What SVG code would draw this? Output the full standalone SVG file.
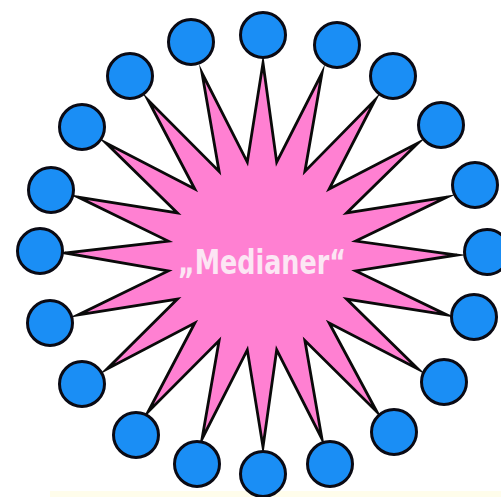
<svg xmlns="http://www.w3.org/2000/svg" width="501" height="497" viewBox="0 0 501 497">
<style>
.n{fill:#1A8EF5;stroke:#0a0a14;stroke-width:3}
.star{fill:#FF80D2;stroke:#0a0a0a;stroke-width:2.8;stroke-linejoin:miter;stroke-miterlimit:20}
.lbl{font-family:"DejaVu Sans Condensed","DejaVu Sans",sans-serif;font-size:33px;font-weight:bold;fill:#FCE6F4}
</style>
<rect width="501" height="497" fill="#ffffff"/>
<rect x="50" y="491" width="451" height="6" fill="#FFFDEB"/>
<g id="connectors">
<path id="star" class="star" d="M263,63 L276.7,162.1 L322,73 L304.9,171.4 L375,100 L329.2,189 L418,143 L346.6,212.9 L447,197 L355.8,241.1 L457,255 L355.8,270.9 L447,315 L346.6,299.1 L418,369 L329.2,323 L377,412 L304.9,340.6 L322,439 L276.7,349.9 L263,447 L247.3,349.9 L202,439 L219.1,340.6 L148,412 L194.8,323 L107,369 L177.4,299.1 L78,315 L168.2,270.9 L65,253 L168.2,241.1 L78,197 L177.4,212.9 L106,143 L194.8,189 L148,100 L219.1,171.4 L202,73 L247.3,162.1 Z"/>
</g>
<g id="center"><text class="lbl" x="262" y="274" text-anchor="middle" textLength="168" lengthAdjust="spacingAndGlyphs">„Medianer“</text></g>
<g id="n0"><circle class="n" cx="263" cy="35" r="22.5"/></g>
<g id="n1"><circle class="n" cx="337" cy="45" r="22.5"/></g>
<g id="n2"><circle class="n" cx="393" cy="76" r="22.5"/></g>
<g id="n3"><circle class="n" cx="441" cy="125" r="22.5"/></g>
<g id="n4"><circle class="n" cx="475" cy="185" r="22.5"/></g>
<g id="n5"><circle class="n" cx="487" cy="252" r="22.5"/></g>
<g id="n6"><circle class="n" cx="474" cy="317" r="22.5"/></g>
<g id="n7"><circle class="n" cx="444" cy="382" r="22.5"/></g>
<g id="n8"><circle class="n" cx="394" cy="432" r="22.5"/></g>
<g id="n9"><circle class="n" cx="330" cy="464" r="22.5"/></g>
<g id="n10"><circle class="n" cx="263" cy="474" r="22.5"/></g>
<g id="n11"><circle class="n" cx="197" cy="464" r="22.5"/></g>
<g id="n12"><circle class="n" cx="136" cy="435" r="22.5"/></g>
<g id="n13"><circle class="n" cx="82" cy="384" r="22.5"/></g>
<g id="n14"><circle class="n" cx="50" cy="323" r="22.5"/></g>
<g id="n15"><circle class="n" cx="40" cy="251" r="22.5"/></g>
<g id="n16"><circle class="n" cx="51" cy="190" r="22.5"/></g>
<g id="n17"><circle class="n" cx="82" cy="127" r="22.5"/></g>
<g id="n18"><circle class="n" cx="130" cy="76" r="22.5"/></g>
<g id="n19"><circle class="n" cx="191" cy="42" r="22.5"/></g>
</svg>
